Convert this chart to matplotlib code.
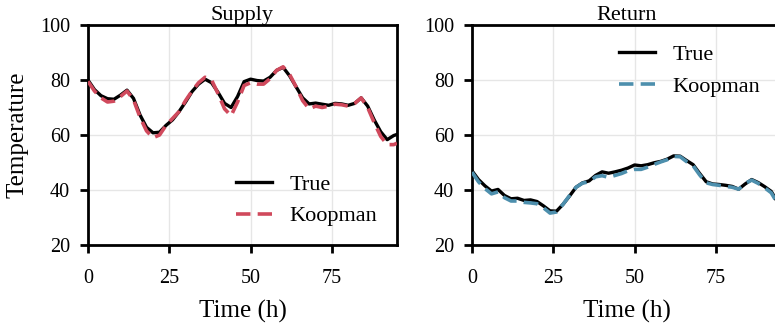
import matplotlib
matplotlib.use("Agg")
import matplotlib.pyplot as plt
import numpy as np

plt.rcParams['font.family'] = ['Liberation Serif', 'DejaVu Serif']

# hourly samples (every 2 h) of supply / return temperature
hours = [0, 2, 4, 6, 8, 10, 12, 14, 16, 18, 20, 22, 24, 26, 28, 30, 32, 34, 36, 38,
         40, 42, 44, 46, 48, 50, 52, 54, 56, 58, 60, 62, 64, 66, 68, 70, 72, 74, 76, 78,
         80, 82, 84, 86, 88, 90, 92, 94, 95]

supply_true = [80, 76.5, 74.3, 73.2, 73, 74.5, 76.3, 73.3, 67.3, 62.8, 60.8, 61, 63.5,
               65.5, 68.5, 72, 75.8, 78.5, 80.3, 79, 75.5, 71.5, 70, 74, 79.4, 80.3,
               79.8, 79.6, 81, 83.5, 84.6, 81.5, 77.5, 73.5, 71.3, 71.6, 71.2, 70.8,
               71.5, 71.3, 70.8, 71.5, 73.5, 70.5, 65.5, 61.2, 58.3, 59.8, 60.2]
supply_koopman = [79.5, 76, 73.5, 72, 72.3, 74, 76, 72.8, 66.5, 61.5, 59, 60, 63.5,
                  66, 68.5, 72.5, 76, 79, 81, 80, 75, 69.5, 67, 72, 78, 79, 78.5,
                  78.5, 80.5, 83.5, 84.8, 82, 77.5, 72.5, 69.5, 70.5, 70, 70.5, 71.2,
                  71, 70.5, 71.5, 73.5, 70, 64.5, 59.5, 56.5, 56.5, 57]

return_true = [47, 43.8, 41.5, 39.6, 40.2, 38, 36.8, 37, 36.2, 36.4, 35.8, 34.2, 32.4,
               32.3, 34.8, 37.8, 41, 42.6, 43.3, 45.3, 46.6, 46.1, 46.6, 47.2, 48, 49.1,
               48.8, 49.2, 49.9, 50.4, 51.2, 52.4, 52.3, 50.7, 49.2, 46, 43, 42.2, 42,
               41.7, 41.3, 40.3, 42.2, 43.8, 42.7, 41.2, 39.5, 35.5, 34.5]
return_koopman = [46.5, 43, 40.5, 38.6, 39.3, 37.2, 36, 36, 35.5, 35.3, 35, 33.5, 31.6,
                  32, 34.8, 38, 41, 42.5, 43, 44.8, 45.2, 44.6, 45.3, 46, 47, 47.5,
                  47.5, 48.3, 49.3, 50.2, 51, 52.2, 52.1, 50.3, 48.8, 45.5, 42.6, 42,
                  41.7, 41.3, 41, 40.3, 42.4, 43.6, 42.4, 40.8, 39, 35, 34]

fig = plt.figure(figsize=(7.75, 3.26), dpi=100)
ax1 = fig.add_axes([0.1135, 0.2485, 0.3987, 0.6748])
ax2 = fig.add_axes([0.609, 0.2485, 0.3987, 0.6748])

panels = [
    (ax1, 'Supply', supply_true, supply_koopman, '#d0495c', (0.479, 0.322)),
    (ax2, 'Return', return_true, return_koopman, '#4d8fad', (0.476, 0.912)),
]

for ax, title, y_true, y_koop, color, anchor in panels:
    ax.plot(hours, y_true, color='black', lw=2.4, label='True', zorder=3)
    ax.plot(hours, y_koop, color=color, lw=2.6, ls=(0, (4, 2)), label='Koopman', zorder=4)
    ax.set_xlim(0, 95)
    ax.set_ylim(20, 100)
    ax.set_xticks([0, 25, 50, 75])
    ax.set_yticks([20, 40, 60, 80, 100])
    ax.grid(True, color='#e6e6e6', lw=1.0)
    ax.set_axisbelow(True)
    ax.set_title(title, fontsize=16, pad=3)
    ax.set_xlabel('Time (h)', fontsize=18, labelpad=9)
    ax.tick_params(direction='out', length=6, width=2, labelsize=14.5)
    ax.tick_params(axis='x', pad=11)
    ax.tick_params(axis='y', pad=7)
    for sp in ax.spines.values():
        sp.set_linewidth(2)
    ax.legend(loc='upper left', bbox_to_anchor=anchor, frameon=False, fontsize=16,
              borderpad=0, borderaxespad=0, handlelength=1.6,
              handletextpad=0.8, labelspacing=0.5)

ax1.set_ylabel('Temperature', fontsize=18, labelpad=8)

fig.savefig('out.png', dpi=100)
